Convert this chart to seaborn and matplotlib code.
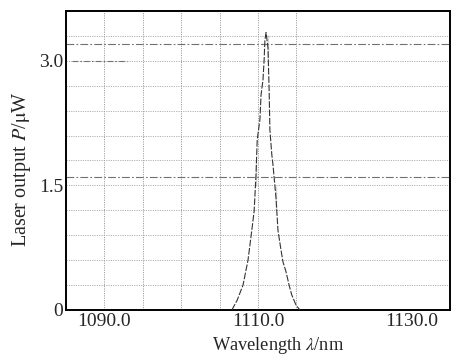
import numpy as np
import pandas as pd
import matplotlib
matplotlib.use("Agg")
import matplotlib.pyplot as plt
import seaborn as sns

# spectrum (nm, uW)
wavelength = [1106.6, 1107.3, 1108.05, 1108.7, 1109.1, 1109.5, 1109.75, 1109.75,
              1109.9, 1110.25, 1110.4, 1110.65, 1110.8, 1110.9, 1111.05,
              1111.3, 1111.3, 1111.45, 1111.55, 1111.8, 1111.95, 1112.35, 1112.35,
              1112.6, 1113.0, 1113.25, 1113.65, 1114.05, 1114.4, 1114.95, 1115.45]
power = [0.0, 0.12, 0.30, 0.60, 0.89, 1.19, 1.49, 1.80,
         2.05, 2.29, 2.59, 2.77, 3.01, 3.25, 3.34,
         3.31, 3.01, 2.65, 2.17, 1.87, 1.75, 1.49, 1.20,
         0.96, 0.72, 0.58, 0.46, 0.30, 0.18, 0.06, 0.0]

peak_level = 3.2
half_level = 1.6

x_ticks = [1090, 1110, 1130]
x_ticklabels = ["1090.0", "1110.0", "1130.0"]
x_grid = [1090, 1095, 1100, 1105, 1110, 1115]
y_ticks = [0, 1.5, 3.0]
y_ticklabels = ["0", "1.5", "3.0"]
y_grid = [0.3 * i for i in range(1, 12)]

df = pd.DataFrame({"wl": wavelength, "p": power})

sns.set_style("white")
plt.rcParams["font.family"] = ["Liberation Serif", "DejaVu Serif"]
plt.rcParams["mathtext.fontset"] = "stix"

fig = plt.figure(figsize=(4.64, 3.57), dpi=100)
ax = fig.add_axes([0.1422, 0.1317, 0.8276, 0.8375])

# grid
for g in y_grid:
    ax.axhline(g, color="#b0b0b0", lw=0.7, ls=(0, (1.2, 1.2)), zorder=1)
for g in x_grid:
    ax.axvline(g, color="#a0a0a0", lw=0.7, ls=(0, (1.2, 1.2)), zorder=1)

# peak / half-maximum reference lines
ax.axhline(peak_level, color="#707070", lw=0.8, ls=(0, (7, 2, 1.5, 2)), zorder=2)
ax.axhline(half_level, color="#707070", lw=0.8, ls=(0, (7, 2, 1.5, 2)), zorder=2)
ax.hlines(3.0, 1085.8, 1093.0, color="#707070", lw=0.8, ls=(0, (5, 2, 1.5, 2)), zorder=2)

sns.lineplot(data=df, x="wl", y="p", ax=ax, sort=False, color="#333333",
             lw=0.8, ls=(0, (6, 1.5)), zorder=3)

ax.set_xlim(1085, 1135)
ax.set_ylim(0, 3.6)
ax.set_xticks(x_ticks)
ax.set_xticklabels(x_ticklabels)
ax.set_yticks(y_ticks)
ax.set_yticklabels(y_ticklabels)
ax.tick_params(length=0, labelsize=14, pad=2)

ax.set_xlabel(r"Wavelength $\it{\lambda}$/nm", fontsize=13.2)
ax.set_ylabel(r"Laser output $\it{P}$/$\mathrm{\mu}$W", fontsize=14.5)
ax.xaxis.set_label_coords(0.552, -0.085)
ax.yaxis.set_label_coords(-0.085, 0.472)

for s in ax.spines.values():
    s.set_color("black")
    s.set_linewidth(1.4)

fig.savefig("out.png", dpi=100)
